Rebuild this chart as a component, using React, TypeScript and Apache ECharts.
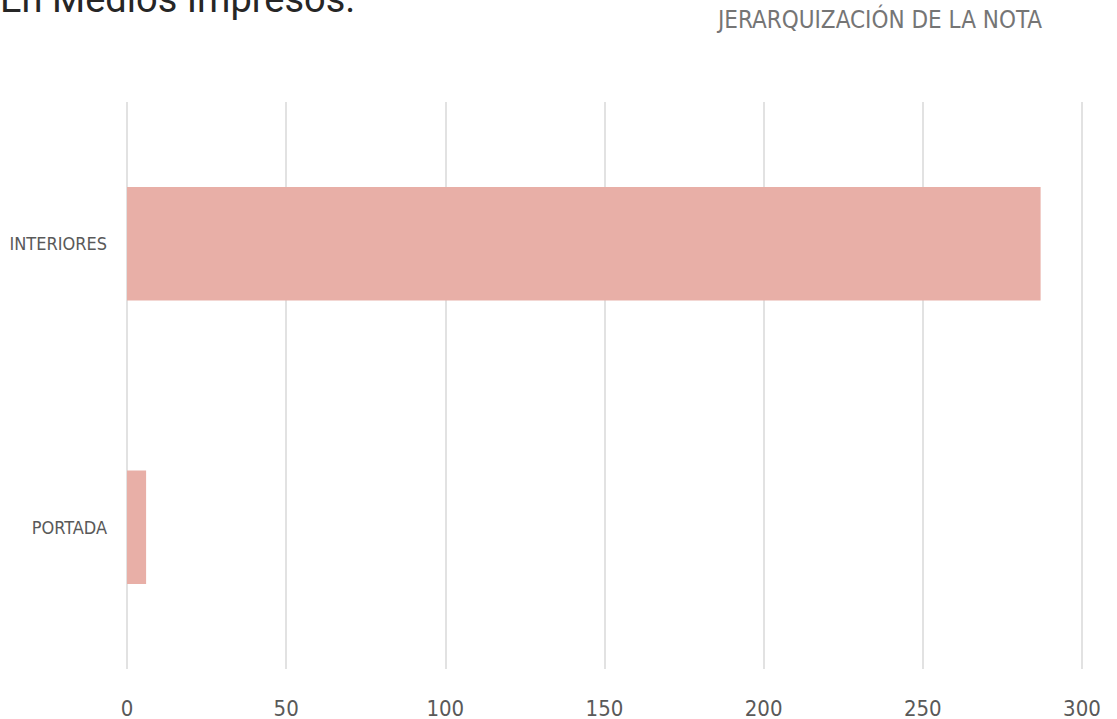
import React, { useEffect, useRef } from "react";
import * as echarts from "echarts";

const categories = ["PORTADA", "INTERIORES"];
const values = [6, 287];
const xTicks = [0, 50, 100, 150, 200, 250, 300];
const chartTitle = "JERARQUIZACIÓN DE LA NOTA";
const pageHeading = "En Medios Impresos.";

const NARROW = "'Liberation Sans Narrow', 'DejaVu Sans Condensed', 'Arial Narrow', sans-serif";

export default function App() {
  const ref = useRef<HTMLDivElement>(null);
  useEffect(() => {
    if (!ref.current) return;
    const chart = echarts.init(ref.current, undefined, { renderer: "svg" });
    chart.setOption({
      animation: false,
      backgroundColor: "#ffffff",
      grid: { left: 127, right: 35, top: 102, bottom: 46, containLabel: false },
      graphic: [
        {
          type: "text",
          left: 0,
          top: -20,
          style: {
            text: pageHeading,
            fontFamily: "Roboto",
            fontSize: 38,
            fill: "#262626",
          },
        },
        {
          type: "text",
          x: 1042,
          y: 20,
          style: {
            text: chartTitle,
            fontFamily: NARROW,
            fontSize: 24,
            fill: "#757575",
            align: "right",
            verticalAlign: "middle",
          },
        },
      ],
      xAxis: {
        type: "value",
        min: xTicks[0],
        max: xTicks[xTicks.length - 1],
        interval: 50,
        axisLine: { show: false },
        axisTick: { show: false },
        axisLabel: {
          margin: 28,
          fontFamily: NARROW,
          fontSize: 22,
          color: "#595959",
        },
        splitLine: { show: true, lineStyle: { color: "#d9d9d9", width: 1.5 } },
      },
      yAxis: {
        type: "category",
        data: categories,
        axisLine: { show: false },
        axisTick: { show: false },
        axisLabel: {
          margin: 20,
          fontFamily: NARROW,
          fontSize: 18,
          color: "#595959",
        },
      },
      series: [
        {
          type: "bar",
          data: values,
          barCategoryGap: "60%",
          itemStyle: { color: "#E8AFA7" },
        },
      ],
    });
    return () => chart.dispose();
  }, []);
  return <div ref={ref} style={{ width: 1117, height: 719, position: "absolute", left: 0, top: 0 }} />;
}
